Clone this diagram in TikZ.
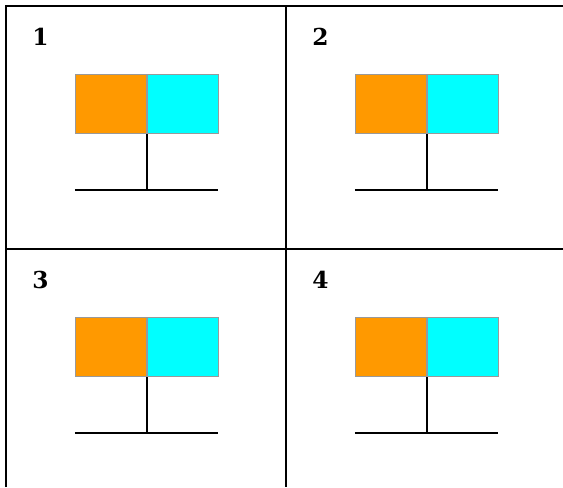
\documentclass[tikz,border=0pt]{standalone}
\usepackage{fontspec}
\newfontfamily\signfont{DejaVu Serif}
\usepackage{tikz}
\usetikzlibrary{positioning}
\definecolor{signorange}{HTML}{FF9900}
\definecolor{signcyan}{HTML}{00FFFF}
\definecolor{signedge}{HTML}{999999}

\begin{document}
\begin{tikzpicture}[x=0.75pt, y=-0.75pt,
    grid/.style={line width=1.5pt},
    half/.style={draw=signedge, line width=1.1pt, inner sep=0pt,
                 minimum width=53pt, minimum height=44.25pt},
    stem/.style={line width=1.5pt},
    num/.style={inner sep=0pt, anchor=base west, font=\signfont\fontsize{17.5}{21}\selectfont\bfseries}]
  \useasboundingbox (0,0) rectangle (563,487);
  % grid
  \draw [grid] (6,487) -- (6,6) -- (563,6);
  \draw [grid] (286,6) -- (286,487);
  \draw [grid] (6,249) -- (563,249);
  % one sign per cell
  \foreach \c/\dx/\dy in {1/0/0, 2/280/0, 3/0/243, 4/280/243} {
    \node [num] (n\c) at (32+\dx,45+\dy) {\c};
    \node [half, fill=signorange, anchor=north east] (o\c) at (147+\dx,74+\dy) {};
    \node [half, fill=signcyan, anchor=north west] (c\c) at (o\c.north east) {};
    \coordinate (b\c) at (147+\dx,190+\dy);
    \draw [stem] (o\c.south east) -- (b\c);
    \draw [stem] (o\c.south west |- b\c) -- ([xshift=-1pt]c\c.south east |- b\c);
  }
\end{tikzpicture}
\end{document}
